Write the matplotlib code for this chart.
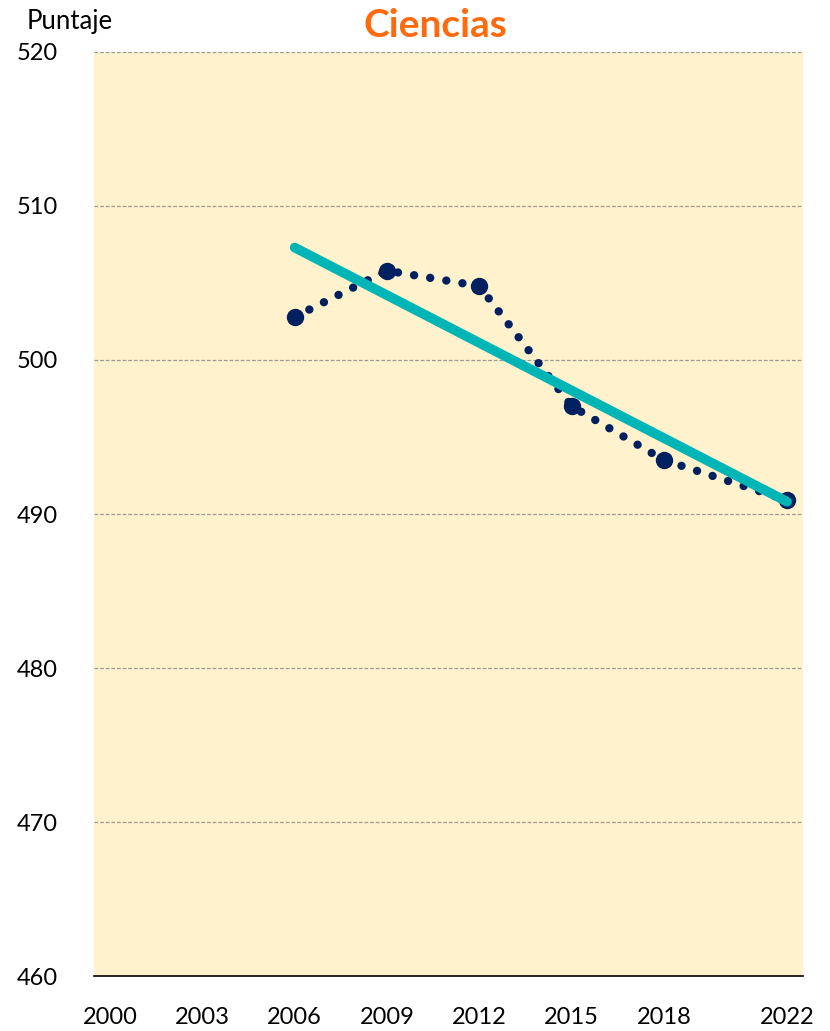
import matplotlib
matplotlib.use("Agg")
import matplotlib.pyplot as plt

# Datos
anios = [2006, 2009, 2012, 2015, 2018, 2022]
puntajes = [502.8, 505.8, 504.8, 497.0, 493.5, 490.9]

# Linea de tendencia (extremos)
anios_tend = [2006, 2022]
puntajes_tend = [507.3, 490.8]

etiquetas_x = [2000, 2003, 2006, 2009, 2012, 2015, 2018, 2022]
etiquetas_y = [460, 470, 480, 490, 500, 510, 520]

FUENTE = "Lato"
AZUL = "#002060"
TEAL = "#00B5B5"
NARANJA = "#FF6A0D"
FONDO = "#FFF2CC"

fig = plt.figure(figsize=(8.3, 10.31), dpi=100)
ax = fig.add_axes([0.1133, 0.0533, 0.8542, 0.8963])
ax.set_facecolor(FONDO)

ax.set_xlim(1999.48, 2022.52)
ax.set_ylim(460, 520)

# Lineas de cuadricula
for v in etiquetas_y[1:]:
    ax.axhline(v, color="#9A9A9A", linestyle=(0, (3, 1.5)), linewidth=0.9, zorder=1)

for s in ["left", "right", "top"]:
    ax.spines[s].set_visible(False)
ax.spines["bottom"].set_color("black")
ax.spines["bottom"].set_linewidth(1.2)

ax.set_xticks(etiquetas_x)
ax.set_xticklabels([str(a) for a in etiquetas_x], fontsize=17, family=FUENTE)
ax.set_yticks(etiquetas_y)
ax.set_yticklabels([str(v) for v in etiquetas_y], fontsize=17, family=FUENTE)
ax.tick_params(axis="both", length=0)
ax.tick_params(axis="x", pad=22)
ax.tick_params(axis="y", pad=26)

# Serie punteada
ax.plot(anios, puntajes, color=AZUL, linewidth=6, linestyle=(0, (0.01, 1.95)),
        dash_capstyle="round", zorder=3)
ax.plot(anios, puntajes, linestyle="none", marker="o", markersize=11.5,
        color=AZUL, zorder=4)

# Tendencia
ax.plot(anios_tend, puntajes_tend, color=TEAL, linewidth=7,
        solid_capstyle="round", zorder=5)

fig.text(0.524, 0.975, "Ciencias", color=NARANJA, fontsize=28, fontweight="bold",
         family=FUENTE, ha="center", va="center")
fig.text(0.032, 0.979, "Puntaje", fontsize=18.5, family=FUENTE, ha="left", va="center")

fig.savefig("out.png", dpi=100)
